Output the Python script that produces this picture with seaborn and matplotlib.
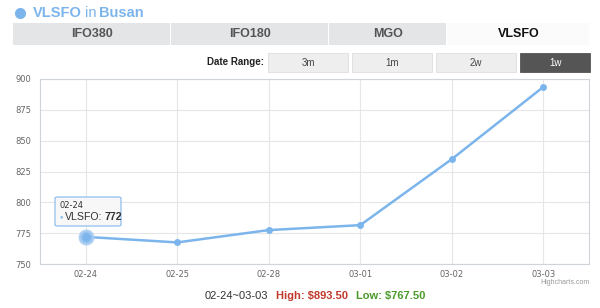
import matplotlib
matplotlib.use("Agg")
import matplotlib.pyplot as plt
from matplotlib.patches import Rectangle, FancyBboxPatch
from matplotlib.lines import Line2D
import seaborn as sns
import pandas as pd

dates = ["02-24", "02-25", "02-28", "03-01", "03-02", "03-03"]
prices = [772.0, 767.5, 777.5, 781.5, 835.0, 893.5]
yticks = [750, 775, 800, 825, 850, 875, 900]
tabs = ["IFO380", "IFO180", "MGO", "VLSFO"]
ranges = ["3m", "1m", "2w", "1w"]

sns.set_theme(style="white")
plt.rcParams['font.family'] = ['Liberation Sans', 'DejaVu Sans']

W, H = 600, 308
fig = plt.figure(figsize=(6, 3.08), dpi=100)
renderer = fig.canvas.get_renderer()


def fx(x):
    return x / W


def fy(y):
    return 1 - y / H


def chain(x, y, parts, gap=3):
    """Place text parts one after another, starting at pixel x."""
    cur = x
    for s, kw in parts:
        t = fig.text(fx(cur), fy(y), s, ha="left", va="center", **kw)
        bb = t.get_window_extent(renderer=renderer)
        cur += bb.width + gap
    return cur


line_col = "#7cb5ec"

# Title
fig.add_artist(Line2D([fx(20)], [fy(13)], marker="o", markersize=8,
                      color=line_col, markeredgewidth=0,
                      transform=fig.transFigure))
chain(33, 13, [("VLSFO", dict(color=line_col, fontsize=10.5, fontweight="bold")),
               ("in", dict(color=line_col, fontsize=10.5)),
               ("Busan", dict(color=line_col, fontsize=10.5, fontweight="bold"))],
      gap=3)

# Tabs
tab_edges = [13, 171, 329, 447, 590]
for i, t in enumerate(tabs):
    x0, x1 = tab_edges[i], tab_edges[i + 1]
    active = (t == "VLSFO")
    fc = "#fbfbfb" if active else "#e4e5e6"
    fig.patches.append(Rectangle((fx(x0), fy(45)), (x1 - x0 - 1) / W, 22 / H,
                                 transform=fig.transFigure, facecolor=fc,
                                 edgecolor="none"))
    fig.text(fx((x0 + x1) / 2), fy(34), t, ha="center", va="center",
             fontsize=9, fontweight="bold",
             color="#111111" if active else "#555555")

# Date range buttons
fig.text(fx(264), fy(62), "Date Range:", ha="right", va="center", fontsize=7,
         fontweight="bold", color="#222222")
btn_x = [268, 352, 436, 520]
for i, r in enumerate(ranges):
    active = (r == "1w")
    x0 = btn_x[i]
    w = 80 if not active else 70
    fig.patches.append(Rectangle((fx(x0), fy(72)), w / W, 19 / H,
                                 transform=fig.transFigure,
                                 facecolor="#555555" if active else "#eeeeee",
                                 edgecolor="#dddddd" if not active else "#555555",
                                 linewidth=0.6))
    fig.text(fx(x0 + w / 2), fy(62.5), r, ha="center", va="center", fontsize=7,
             color="white" if active else "#444444")

# Chart
ax = fig.add_axes([fx(40), fy(264), (589 - 40) / W, (264 - 79) / H])
df = pd.DataFrame({"date": dates, "price": prices})
sns.lineplot(data=df, x="date", y="price", sort=False, ax=ax, color=line_col,
             linewidth=1.8, marker="o", markersize=5, markeredgewidth=0)
ax.scatter([0], [prices[0]], s=90, color=line_col, zorder=5, alpha=0.9,
           edgecolors="#a9cdf2", linewidths=2)
ax.set_xlim(-0.5, len(dates) - 0.5)
ax.set_ylim(750, 900)
ax.set_yticks(yticks)
ax.set_xticks(range(len(dates)))
ax.set_xticklabels(dates)
ax.set_xlabel("")
ax.set_ylabel("")
ax.grid(True, color="#e6e6e6", linewidth=0.8)
ax.set_axisbelow(True)
for s in ax.spines.values():
    s.set_color("#cfd3da")
    s.set_linewidth(0.8)
ax.tick_params(axis="both", length=0, colors="#666666")
ax.tick_params(axis="x", pad=4)
ax.tick_params(axis="y", pad=6)
for lbl in ax.get_xticklabels() + ax.get_yticklabels():
    lbl.set_family(["DejaVu Sans"])
    lbl.set_fontsize(6)

# Tooltip
fig.patches.append(FancyBboxPatch((fx(55), fy(226)), 66 / W, 29 / H,
                                  boxstyle="round,pad=0,rounding_size=0.004",
                                  transform=fig.transFigure,
                                  facecolor="#f7f7f7", edgecolor=line_col,
                                  linewidth=0.8, alpha=0.95))
fig.text(fx(60), fy(205), dates[0], fontsize=6, color="#333333", va="center",
         family=["DejaVu Sans"])
fig.text(fx(60), fy(217), "\u25cf", fontsize=4, color=line_col, va="center")
chain(65, 217, [("VLSFO:", dict(fontsize=7.6, color="#333333")),
                (f"{prices[0]:.0f}", dict(fontsize=7.6, color="#333333",
                                          fontweight="bold"))], gap=2.5)

# Credits
fig.text(fx(590), fy(283), "Highcharts.com", fontsize=5, color="#999999",
         ha="right", va="center")

# Summary
hi = max(prices)
lo = min(prices)
chain(205, 296, [(f"{dates[0]}~{dates[-1]}", dict(fontsize=8, color="#333333")),
                 (f"High: ${hi:.2f}", dict(fontsize=8, color="#c0392b",
                                           fontweight="bold")),
                 (f"Low: ${lo:.2f}", dict(fontsize=8, color="#4a9a2a",
                                          fontweight="bold"))], gap=8)

fig.savefig("out.png", dpi=100)
